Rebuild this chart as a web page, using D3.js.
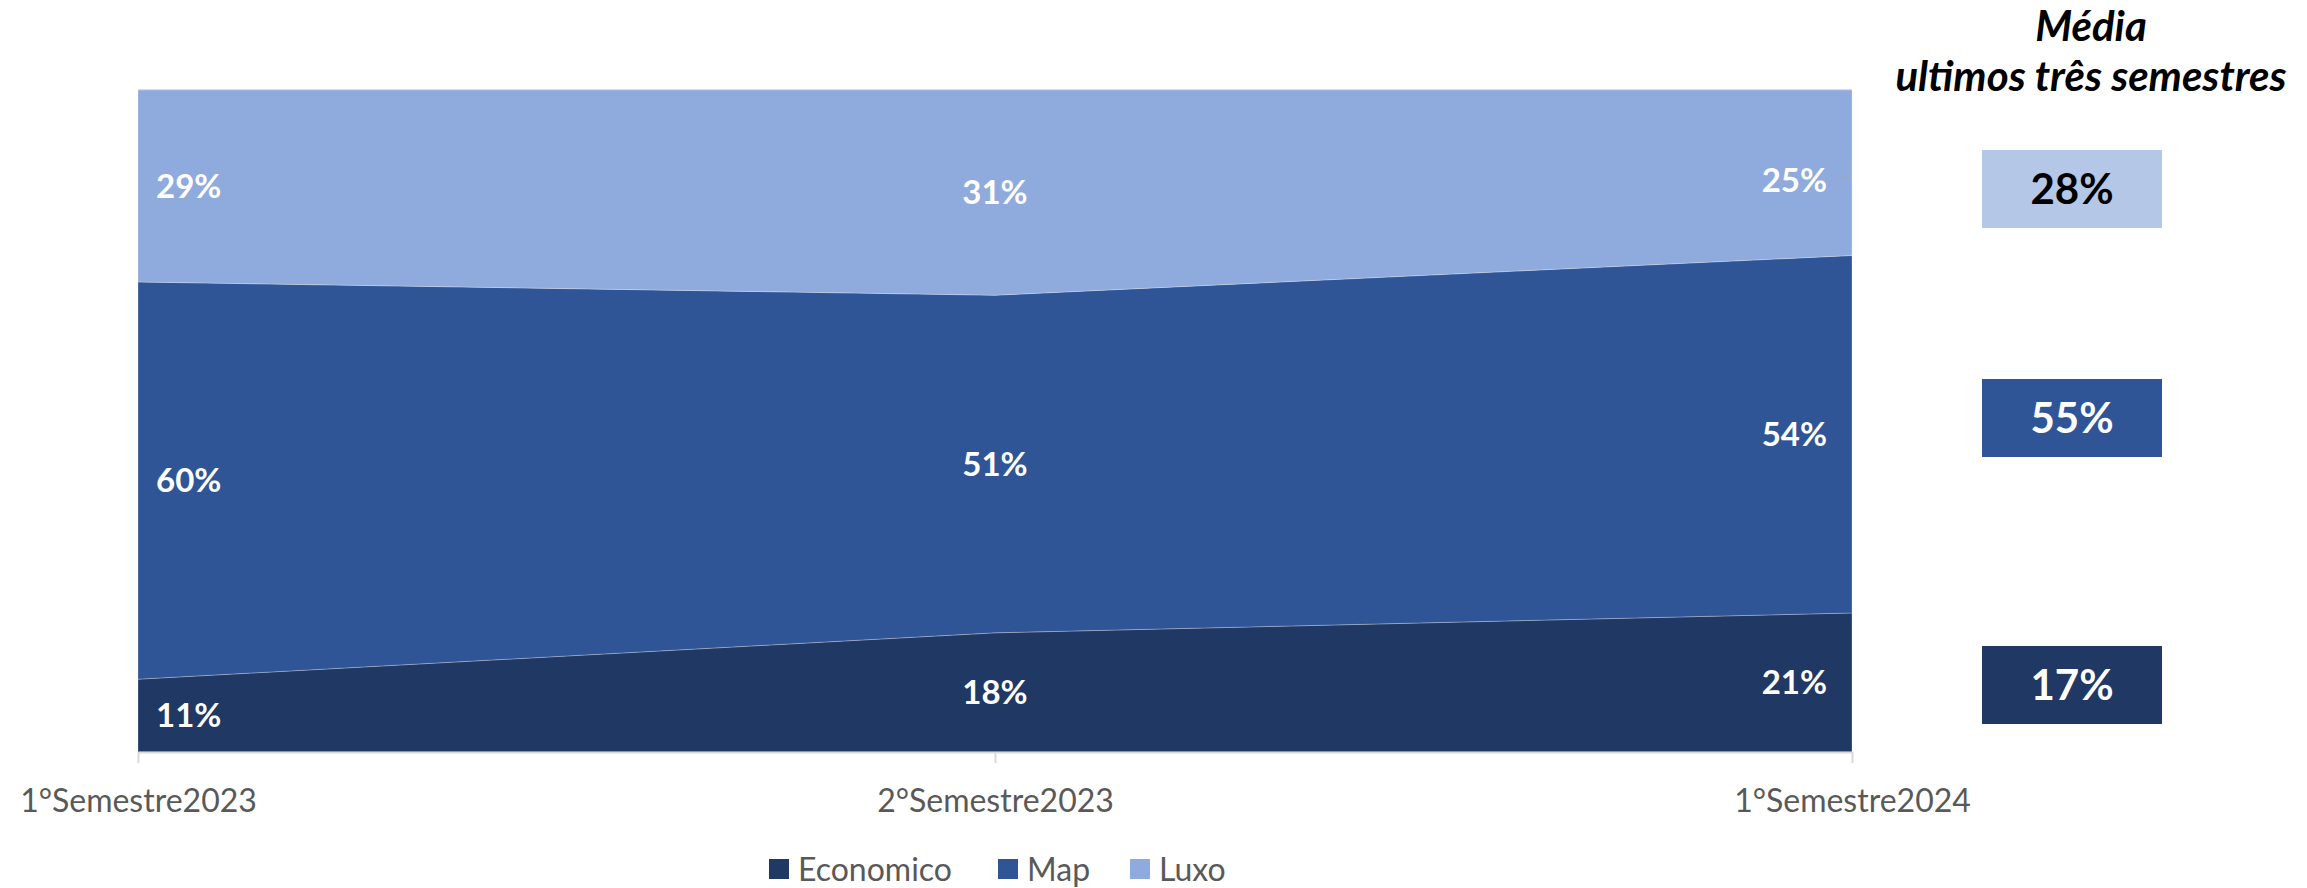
<!DOCTYPE html>
<html><head><meta charset="utf-8">
<script src="https://cdn.jsdelivr.net/npm/d3@7"></script>
<style>body{margin:0;background:#fff}svg{display:block}</style>
</head><body>
<svg id="c" width="2307" height="888"></svg>
<script>
const categories = ["1°Semestre2023","2°Semestre2023","1°Semestre2024"];
const seriesNames = ["Economico","Map","Luxo"];
const economico = [11,18,21];
const map = [60,51,54];
const luxo = [29,31,25];
const averages = [17,55,28]; // Economico, Map, Luxo
const titleLines = ["Média","ultimos três semestres"];

const colors = {Economico:"#203864", Map:"#2F5597", Luxo:"#8FAADC"};
const boxColors = {Economico:"#203864", Map:"#2F5597", Luxo:"#B4C7E7"};
const boxText = {Economico:"#fff", Map:"#fff", Luxo:"#000"};
const boxTop = {Economico:646, Map:379, Luxo:150};
const FONT = "Lato, 'Open Sans', sans-serif";

const svg = d3.select("#c");
const M = {left:138, right:1852, top:90, bottom:752};
const x = d3.scalePoint().domain(categories).range([M.left, M.right]);
const y = d3.scaleLinear().domain([0,100]).range([M.bottom, M.top]);

const rows = categories.map((c,i)=>({cat:c, Economico:economico[i], Map:map[i], Luxo:luxo[i]}));
const stack = d3.stack().keys(seriesNames)(rows);

// top gridline
svg.append("line").attr("x1",M.left).attr("x2",M.right).attr("y1",y(100)).attr("y2",y(100))
  .attr("stroke","#d9d9d9").attr("stroke-width",2);

const area = d3.area().x(d=>x(d.data.cat)).y0(d=>y(d[0])).y1(d=>y(d[1]));
svg.append("g").selectAll("path").data(stack).join("path")
  .attr("d",area).attr("fill",d=>colors[d.key])
  .attr("stroke","rgba(255,255,255,0.25)").attr("stroke-width",1);

// x axis
const ax = svg.append("g").attr("transform",`translate(0,${M.bottom})`)
  .call(d3.axisBottom(x).tickSize(11).tickPadding(26).tickSizeOuter(0));
ax.select(".domain").attr("stroke","#d9d9d9").attr("stroke-width",2);
ax.selectAll(".tick line").attr("stroke","#d9d9d9").attr("stroke-width",2);
ax.selectAll(".tick text").attr("fill","#595959").style("font-family",FONT).style("font-size","32px");

// data labels
const lbl = svg.append("g");
stack.forEach(s=>{
  s.forEach((d,i)=>{
    const cx = x(d.data.cat);
    const anchor = i===0?"start":(i===categories.length-1?"end":"middle");
    const xx = i===0?cx+18:(i===categories.length-1?cx-25:cx);
    let cy = (y(d[0])+y(d[1]))/2;
    if (s.key==="Luxo" && i===categories.length-1) cy += 7;
    lbl.append("text").attr("x",xx).attr("y",cy).attr("dy","0.36em")
      .attr("text-anchor",anchor).attr("fill","#fff")
      .style("font-family",FONT).style("font-weight","bold").style("font-size","33px")
      .text(d.data[s.key]+"%");
  });
});
// leader line for last Luxo label
const lastLuxo = stack[2][2];
svg.append("path").attr("d",`M${x(lastLuxo.data.cat)-16},${(y(lastLuxo[0])+y(lastLuxo[1]))/2+5} l10,0 l5,-3`)
  .attr("fill","none").attr("stroke","#a6a6a6").attr("stroke-width",1.2);

// title
const t = svg.append("text").attr("text-anchor","middle")
  .style("font-family",FONT).style("font-weight","bold").style("font-style","italic").style("font-size","42px");
t.append("tspan").attr("x",2091).attr("y",41).text(titleLines[0]);
t.append("tspan").attr("x",2091).attr("y",91).text(titleLines[1]);

// average boxes
seriesNames.forEach((k,i)=>{
  const g = svg.append("g");
  g.append("rect").attr("x",1982).attr("y",boxTop[k]).attr("width",180).attr("height",78).attr("fill",boxColors[k]);
  g.append("text").attr("x",2072).attr("y",boxTop[k]+39).attr("dy","0.36em").attr("text-anchor","middle")
    .attr("fill",boxText[k]).style("font-family",FONT).style("font-weight","bold").style("font-size","42px")
    .text(averages[i]+"%");
});

// legend
const legX = [769, 998, 1130];
const lg = svg.append("g");
seriesNames.forEach((k,i)=>{
  lg.append("rect").attr("x",legX[i]).attr("y",859).attr("width",20).attr("height",20).attr("fill",colors[k]);
  lg.append("text").attr("x",legX[i]+29).attr("y",881).attr("fill","#595959")
    .style("font-family",FONT).style("font-size","32px").text(k);
});
</script>
</body></html>
